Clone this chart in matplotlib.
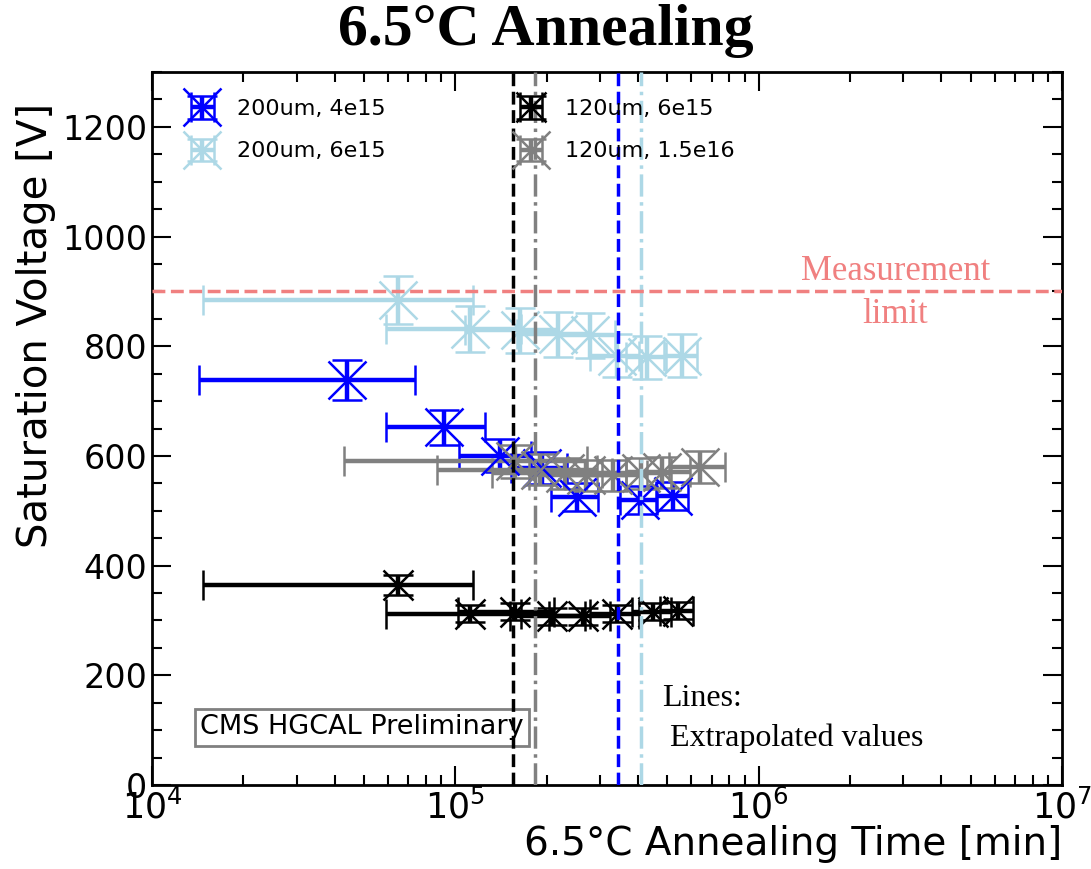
import matplotlib
matplotlib.use("Agg")
import matplotlib.pyplot as plt
import numpy as np
from matplotlib.ticker import MultipleLocator

# annealing time at 6.5C [min] and saturation voltage [V]
t_200_4e15 = [44000, 92000, 140000, 193000, 251000, 405000, 521000]
v_200_4e15 = [738, 652, 600, 578, 525, 520, 527]
terr_200_4e15 = [29700, 33000, 37000, 40000, 45000, 57000, 62000]

t_200_6e15 = [64700, 112000, 163000, 218000, 277000, 340000, 430000, 557000]
v_200_6e15 = [884, 831, 829, 822, 820, 783, 780, 783]
terr_200_6e15 = [50000, 53000, 55000, 58000, 60000, 62000, 65000, 68000]

t_120_6e15 = [64700, 112000, 157000, 209000, 263000, 340000, 448000, 541000]
v_120_6e15 = [365, 312, 316, 308, 308, 312, 316, 318]
terr_120_6e15 = [50000, 53000, 55000, 58000, 60000, 62000, 65000, 68000]

t_120_15e16 = [157000, 190000, 230000, 270000, 330000, 410000, 480000, 640000]
v_120_15e16 = [590, 575, 568, 565, 565, 568, 570, 580]
terr_120_15e16 = [114000, 103000, 98000, 95000, 100000, 105000, 115000, 133000]

# extrapolated times
t_extrap = {"black": 155000, "gray": 183000, "blue": 343000, "lightblue": 408000}

meas_limit = 900

fig = plt.figure(figsize=(10.91, 8.69), dpi=100)
ax = fig.add_axes([0.1393, 0.0967, 0.8341, 0.8204])

def plot_set(t, v, terr, color, label, ms=28):
    v = np.array(v, dtype=float)
    ax.errorbar(t, v, xerr=terr, yerr=0.05 * v, fmt='x', color=color, ms=ms, mew=1.8,
                elinewidth=3.2, capsize=11, capthick=1.8, label=label)

plot_set(t_200_4e15, v_200_4e15, terr_200_4e15, 'blue', '200um, 4e15')
plot_set(t_200_6e15, v_200_6e15, terr_200_6e15, 'lightblue', '200um, 6e15')
plot_set(t_120_6e15, v_120_6e15, terr_120_6e15, 'black', '120um, 6e15', ms=21)
plot_set(t_120_15e16, v_120_15e16, terr_120_15e16, 'gray', '120um, 1.5e16')

ax.axvline(t_extrap["black"], color='black', ls='--', lw=2.5, zorder=5)
ax.axvline(t_extrap["gray"], color='gray', ls='-.', lw=2.5, zorder=5)
ax.axvline(t_extrap["blue"], color='blue', ls='--', lw=2.5, zorder=5)
ax.axvline(t_extrap["lightblue"], color='lightblue', ls='-.', lw=2.5, zorder=5)
ax.axhline(meas_limit, color='lightcoral', ls='--', lw=2.5, zorder=5)

ax.text(2.82e6, 897, "Measurement\nlimit", color='lightcoral', fontsize=25,
        family='Liberation Serif', ha='center', va='center', linespacing=1.4)
ax.text(4.79e5, 121, "Lines:\n Extrapolated values", color='black', fontsize=23,
        family='Liberation Serif', ha='left', va='center', linespacing=1.45)
ax.text(0.053, 0.081, "CMS HGCAL Preliminary", transform=ax.transAxes, fontsize=19.5,
        ha='left', va='center', zorder=4,
        bbox=dict(boxstyle='square,pad=0.2', facecolor='white', edgecolor='gray', lw=2))

ax.set_xscale('log')
ax.set_xlim(1e4, 1e7)
ax.set_ylim(0, 1300)
ax.yaxis.set_major_locator(MultipleLocator(200))
ax.yaxis.set_minor_locator(MultipleLocator(50))
ax.tick_params(which='both', direction='in', top=True, right=True, labelsize=24, width=1.5)
ax.tick_params(which='major', length=14)
ax.tick_params(which='minor', length=7)
ax.tick_params(axis='x', labelsize=25, pad=3)
for s in ax.spines.values():
    s.set_linewidth(2)

ax.set_xlabel("6.5°C Annealing Time [min]", fontsize=28, loc='right', labelpad=0)
ax.set_ylabel("Saturation Voltage [V]", fontsize=29)
ax.yaxis.set_label_coords(-0.106, 0.645)

ax.legend(loc='upper left', ncol=2, frameon=False, fontsize=16, handlelength=1.1,
          handletextpad=1.0, columnspacing=6.0, labelspacing=1.0,
          bbox_to_anchor=(0.02, 0.99))

fig.suptitle("6.5°C Annealing", fontsize=43, fontweight='bold', family='Liberation Serif',
             x=0.5, y=0.995, va='top')

fig.savefig("out.png", dpi=100)
